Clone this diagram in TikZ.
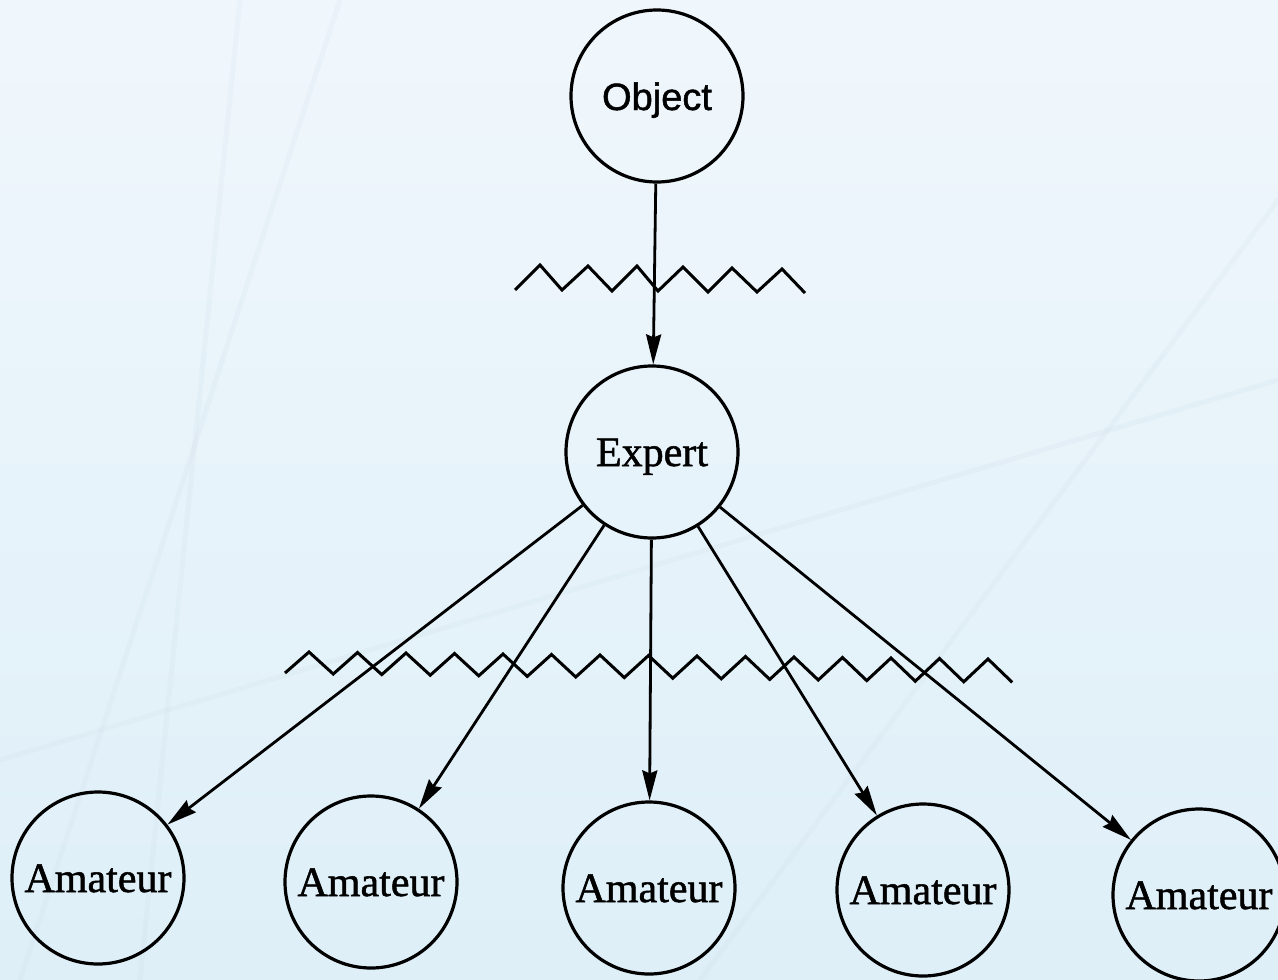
\documentclass[tikz,border=0pt]{standalone}
\usepackage{fontspec}
\setmainfont{Liberation Serif}[FakeBold=1.2]
\newfontfamily\objfont{Liberation Sans}[FakeBold=1.2]
\usetikzlibrary{arrows.meta}
\definecolor{bgtop}{RGB}{240,247,252}
\definecolor{bgbot}{RGB}{222,239,248}
\definecolor{streak}{RGB}{205,220,230}
\tikzset{
  circ/.style={circle, draw=black, line width=3.2pt, minimum size=172pt, inner sep=0pt,
    text height=28pt, text depth=0pt, font=\fontsize{42}{48}\selectfont},
  objcirc/.style={circ, font=\objfont\fontsize{38}{44}\selectfont},
  edge/.style={draw=black, line width=2.8pt, -{Stealth[length=30pt,width=15pt,inset=3pt]}},
  zig/.style={draw=black, line width=3pt, line join=miter},
  faint/.style={draw=streak, line width=5pt, opacity=0.18, line cap=round}
}
\begin{document}
\begin{tikzpicture}[x=1pt,y=-1pt]
\useasboundingbox (0,0) rectangle (1278,980);
\shade[top color=bgtop, bottom color=bgbot] (0,0) rectangle (1278,980);
% faint background streaks
\draw[faint] (20,980) -- (340,0);
\draw[faint] (140,980) -- (240,0);
\draw[faint] (0,760) -- (1278,380);
\draw[faint] (700,980) -- (1278,200);

% nodes
\node[objcirc] (O) at (657,96) {Object};
\node[circ] (E) at (652,452) {Expert};
\node[circ] (A1) at (98,878) {Amateur};
\node[circ] (A2) at (371,882) {Amateur};
\node[circ] (A3) at (649,888) {Amateur};
\node[circ] (A4) at (923,890) {Amateur};
\node[circ] (A5) at (1199,895) {Amateur};

% zigzag lines
\draw[zig] (515,290) -- (540,265) -- (562,290) -- (588,266) -- (612,291) -- (637,266)
  -- (658,291) -- (683,267) -- (708,292) -- (732,268) -- (757,292) -- (782,269) -- (805,293);
\draw[zig] (285,673) foreach \k in {0,...,14} {
  -- ({309+48.5*\k},{652+0.5*\k}) -- ({333.25+48.5*\k},{674+0.6*\k}) };

% connectors
\draw[edge] (O) -- (E);
\draw[edge] (E) -- (A1);
\draw[edge] (E) -- (A2);
\draw[edge] (E) -- (A3);
\draw[edge] (E) -- (A4);
\draw[edge] (E) -- (A5);
\end{tikzpicture}
\end{document}
